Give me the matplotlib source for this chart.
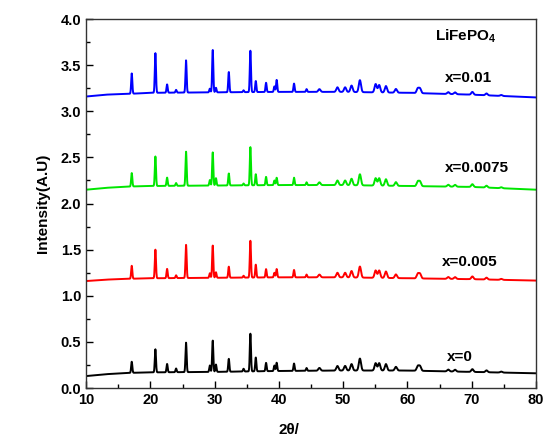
import numpy as np
import matplotlib.pyplot as plt

plt.rcParams['font.family'] = ['Liberation Sans', 'DejaVu Sans']
plt.rcParams['mathtext.fontset'] = 'custom'
plt.rcParams['mathtext.bf'] = 'Liberation Sans:bold'
plt.rcParams['mathtext.rm'] = 'Liberation Sans'

# peak positions (2theta)
peaks = [17.1, 20.78, 22.6, 24.0, 25.55, 29.25, 29.7, 30.2, 32.2, 34.5, 35.56, 36.4,
         38.0, 39.3, 39.65, 42.35, 44.3, 46.3, 49.1, 50.3, 51.3, 52.6, 55.05, 55.6,
         56.65, 58.2, 61.6, 61.95, 66.35, 67.4, 70.1, 72.3, 74.6]

# peak heights above baseline, one list per sample
h_0 = [0.12, 0.25, 0.09, 0.04, 0.32, 0.07, 0.34, 0.08, 0.14, 0.03, 0.41, 0.15,
       0.09, 0.06, 0.09, 0.08, 0.03, 0.03, 0.05, 0.05, 0.07, 0.13, 0.08, 0.08,
       0.07, 0.04, 0.05, 0.05, 0.02, 0.02, 0.03, 0.02, 0.01]
h_005 = [0.14, 0.31, 0.10, 0.03, 0.36, 0.05, 0.35, 0.06, 0.12, 0.02, 0.40, 0.14,
         0.09, 0.05, 0.09, 0.08, 0.03, 0.03, 0.05, 0.05, 0.07, 0.12, 0.08, 0.08,
         0.07, 0.04, 0.05, 0.05, 0.02, 0.02, 0.03, 0.02, 0.01]
h_0075 = [0.145, 0.32, 0.09, 0.03, 0.37, 0.06, 0.36, 0.08, 0.13, 0.02, 0.415, 0.12,
          0.09, 0.05, 0.08, 0.08, 0.03, 0.03, 0.05, 0.05, 0.07, 0.12, 0.08, 0.08,
          0.07, 0.04, 0.05, 0.05, 0.02, 0.02, 0.03, 0.02, 0.01]
h_01 = [0.22, 0.43, 0.09, 0.03, 0.35, 0.04, 0.46, 0.05, 0.22, 0.02, 0.45, 0.12,
        0.10, 0.06, 0.13, 0.09, 0.03, 0.03, 0.05, 0.05, 0.07, 0.13, 0.09, 0.08,
        0.07, 0.04, 0.05, 0.05, 0.02, 0.02, 0.03, 0.02, 0.01]

# baseline anchor points
base_x = [10, 13, 17, 20, 30, 40, 50, 60, 70, 80]
base_0 = [0.13, 0.15, 0.165, 0.17, 0.175, 0.185, 0.19, 0.19, 0.175, 0.16]
base_005 = [1.16, 1.175, 1.185, 1.19, 1.195, 1.20, 1.20, 1.19, 1.18, 1.165]
base_0075 = [2.15, 2.17, 2.185, 2.19, 2.195, 2.20, 2.20, 2.19, 2.18, 2.15]
base_01 = [3.16, 3.18, 3.19, 3.20, 3.205, 3.21, 3.21, 3.20, 3.18, 3.15]

labels = ['x=0', 'x=0.005', 'x=0.0075', 'x=0.01']
colors = ['#000000', '#ff0000', '#00e600', '#0000ff']
label_pos = [(68.2, 0.34), (69.7, 1.37), (70.8, 2.385), (69.5, 3.36)]

tt = np.linspace(10, 80, 3500)


def pattern(base, heights):
    y = np.interp(tt, base_x, base)
    for p, h in zip(peaks, heights):
        w = 0.09 if p < 45 else 0.17
        y = y + h * np.exp(-0.5 * ((tt - p) / w) ** 2)
    return y


fig = plt.figure(figsize=(5.45, 4.37), dpi=100)
ax = fig.add_axes([0.158, 0.112, 0.8255, 0.8445])

series = [(base_0, h_0), (base_005, h_005), (base_0075, h_0075), (base_01, h_01)]
for (b, h), c, lab, (lx, ly) in zip(series, colors, labels, label_pos):
    ax.plot(tt, pattern(b, h), color=c, lw=1.4)
    ax.text(lx, ly, lab, ha='center', va='center', fontsize=11, fontweight='bold')

ax.text(69, 3.81, r'LiFePO$_\mathbf{4}$', ha='center', va='center',
        fontsize=11, fontweight='bold')

ax.set_xlim(10, 80)
ax.set_ylim(0, 4.0)
ax.set_xticks(np.arange(10, 81, 10))
ax.set_xticks(np.arange(15, 80, 10), minor=True)
ax.set_yticks(np.arange(0, 4.01, 0.5))
ax.set_yticks(np.arange(0.25, 4.0, 0.5), minor=True)
ax.yaxis.set_major_formatter(plt.FormatStrFormatter('%.1f'))
ax.tick_params(which='both', direction='in', top=False, right=False, labelsize=10.5, width=1)
ax.tick_params(which='major', length=5)
ax.tick_params(which='minor', length=3)
for t in ax.get_xticklabels() + ax.get_yticklabels():
    t.set_fontweight('bold')
for s in ax.spines.values():
    s.set_linewidth(1.0)
    s.set_color('#333333')

ax.set_xlabel('2θ/', fontsize=11, fontweight='bold')
ax.xaxis.set_label_coords((289 - 86) / 450, -(430 - 388) / 369)
ax.xaxis.label.set_va('center')
ax.set_ylabel('Intensity(A.U)', fontsize=11, fontweight='bold', labelpad=8)

fig.savefig('out.png', dpi=100)
